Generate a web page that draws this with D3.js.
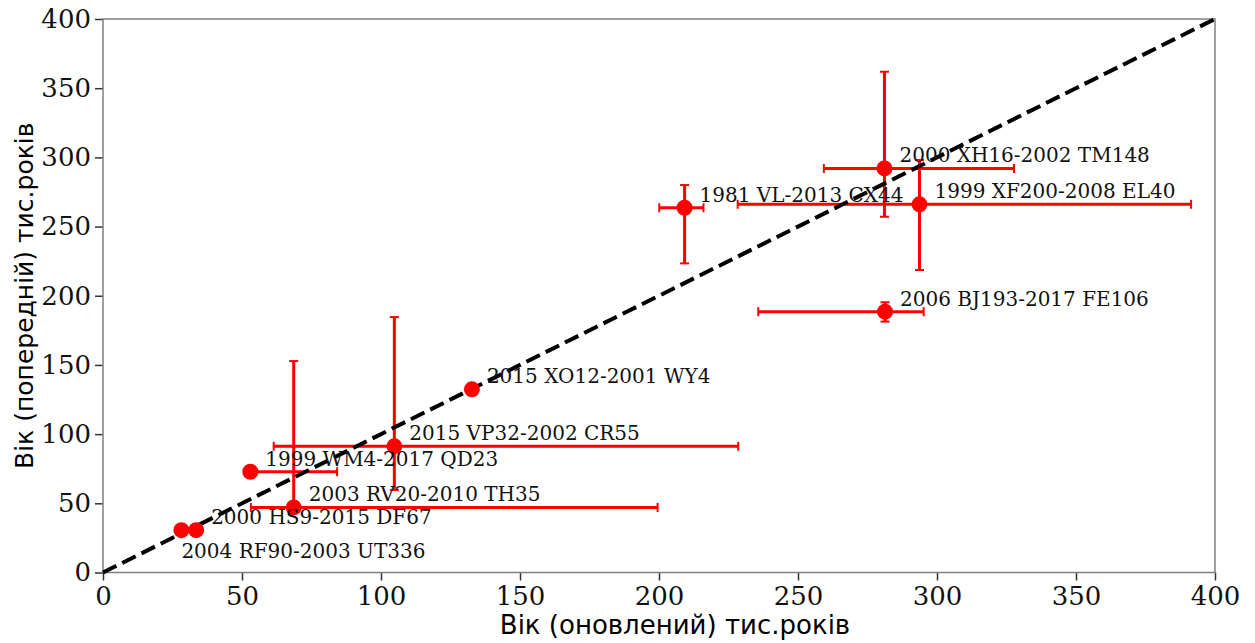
<!DOCTYPE html>
<html>
<head>
<meta charset="utf-8">
<script src="https://cdn.jsdelivr.net/npm/d3@7"></script>
<style>
  html, body { margin: 0; padding: 0; background: #fff; }
  svg { display: block; }
</style>
</head>
<body>
<svg id="chart" width="1255" height="643"></svg>
<script>
// Asteroid pair names
const pairs = [
  "2004 RF90-2003 UT336",
  "2000 HS9-2015 DF67",
  "1999 WM4-2017 QD23",
  "2003 RV20-2010 TH35",
  "2015 VP32-2002 CR55",
  "2015 XO12-2001 WY4",
  "1981 VL-2013 CX44",
  "2000 XH16-2002 TM148",
  "1999 XF200-2008 EL40",
  "2006 BJ193-2017 FE106"
];
// Updated age (kyr) and its asymmetric uncertainties
const ageNew     = [28.2, 33.5, 53.0, 68.6, 104.8, 132.7, 209.2, 281.1, 293.7, 281.3];
const ageNewLow  = [0,    0,    0,    15.4, 43.4,  0,     9.1,   21.8,  65.4,  45.6];
const ageNewHigh = [0,    0,    31.2, 130.9, 123.7, 0,    6.8,   46.6,  97.7,  13.9];
// Previous age (kyr) and its asymmetric uncertainties
const agePrev     = [30.6, 30.6, 72.8, 47.0, 91.2, 132.4, 263.6, 292.0, 266.1, 188.5];
const agePrevLow  = [0,    0,    0,    0,    31.6, 0,     40.2,  34.9,  47.5,  7.2];
const agePrevHigh = [0,    0,    0,    105.8, 93.4, 0,    16.4,  69.9,  32.0,  6.8];
// Label placed under its point instead of to the upper right
const labelBelow = [true, false, false, false, false, false, false, false, false, false];

const xTicks = [0, 50, 100, 150, 200, 250, 300, 350, 400];
const yTicks = [0, 50, 100, 150, 200, 250, 300, 350, 400];
const xTitle = "Вік (оновлений) тис.років";
const yTitle = "Вік (попередній) тис.років";

const margin = { left: 103, right: 40, top: 19, bottom: 70.5 };
const W = 1255, H = 643;
const svg = d3.select("#chart");

const x = d3.scaleLinear().domain([0, 400]).range([margin.left, W - margin.right]);
const y = d3.scaleLinear().domain([0, 400]).range([H - margin.bottom, margin.top]);

const data = pairs.map((name, i) => ({
  name,
  x: ageNew[i], xl: ageNew[i] - ageNewLow[i], xh: ageNew[i] + ageNewHigh[i],
  y: agePrev[i], yl: agePrev[i] - agePrevLow[i], yh: agePrev[i] + agePrevHigh[i],
  below: labelBelow[i]
}));

const tickFont = "'DejaVu Serif', serif";
const titleFont = "'DejaVu Sans', sans-serif";

// Axes
const xAxis = d3.axisBottom(x).tickValues(xTicks).tickSize(8).tickPadding(6).tickFormat(d3.format("d"));
const yAxis = d3.axisLeft(y).tickValues(yTicks).tickSize(8).tickPadding(4).tickFormat(d3.format("d"));

const gx = svg.append("g").attr("transform", `translate(0,${y(0)})`).call(xAxis);
const gy = svg.append("g").attr("transform", `translate(${x(0)},0)`).call(yAxis);
[gx, gy].forEach(g => {
  g.select(".domain").remove();
  g.selectAll(".tick line").attr("stroke", "#333").attr("stroke-width", 1.5);
  g.selectAll(".tick text").attr("fill", "#111").style("font-family", tickFont).style("font-size", "26px");
});

// Frame
svg.append("rect")
  .attr("x", x(0)).attr("y", y(400))
  .attr("width", x(400) - x(0)).attr("height", y(0) - y(400))
  .attr("fill", "none").attr("stroke", "#808080").attr("stroke-width", 1.5);

// Error bars
const red = "#ff0000";
const cap = 4.5;
const eb = svg.append("g").attr("stroke", red);
data.forEach(d => {
  if (d.xh > d.xl) {
    eb.append("line").attr("x1", x(d.xl)).attr("x2", x(d.xh)).attr("y1", y(d.y)).attr("y2", y(d.y)).attr("stroke-width", 3);
    [d.xl, d.xh].forEach(v => eb.append("line")
      .attr("x1", x(v)).attr("x2", x(v)).attr("y1", y(d.y) - cap).attr("y2", y(d.y) + cap).attr("stroke-width", 2));
  }
  if (d.yh > d.yl) {
    eb.append("line").attr("x1", x(d.x)).attr("x2", x(d.x)).attr("y1", y(d.yl)).attr("y2", y(d.yh)).attr("stroke-width", 3);
    [d.yl, d.yh].forEach(v => eb.append("line")
      .attr("x1", x(d.x) - cap).attr("x2", x(d.x) + cap).attr("y1", y(v)).attr("y2", y(v)).attr("stroke-width", 2));
  }
});

// 1:1 reference line
svg.append("line")
  .attr("x1", x(0)).attr("y1", y(0)).attr("x2", x(400)).attr("y2", y(400))
  .attr("stroke", "#000").attr("stroke-width", 4).attr("stroke-dasharray", "15,6.5");

// Points
svg.append("g").selectAll("circle").data(data).join("circle")
  .attr("cx", d => x(d.x)).attr("cy", d => y(d.y)).attr("r", 8).attr("fill", red);

// Point labels
svg.append("g").selectAll("text").data(data).join("text")
  .attr("x", d => x(d.x) + (d.below ? 0 : 15))
  .attr("y", d => y(d.y) + (d.below ? 28 : -6))
  .style("font-family", tickFont).style("font-size", "20px").attr("fill", "#111")
  .text(d => d.name);

// Axis titles
svg.append("text")
  .attr("x", 675).attr("y", 634).attr("text-anchor", "middle")
  .style("font-family", titleFont).style("font-size", "26px").attr("fill", "#000")
  .text(xTitle);
svg.append("text")
  .attr("transform", `translate(33,${(y(0) + y(400)) / 2}) rotate(-90)`)
  .attr("text-anchor", "middle")
  .style("font-family", titleFont).style("font-size", "25px").attr("fill", "#000")
  .text(yTitle);
</script>
</body>
</html>
